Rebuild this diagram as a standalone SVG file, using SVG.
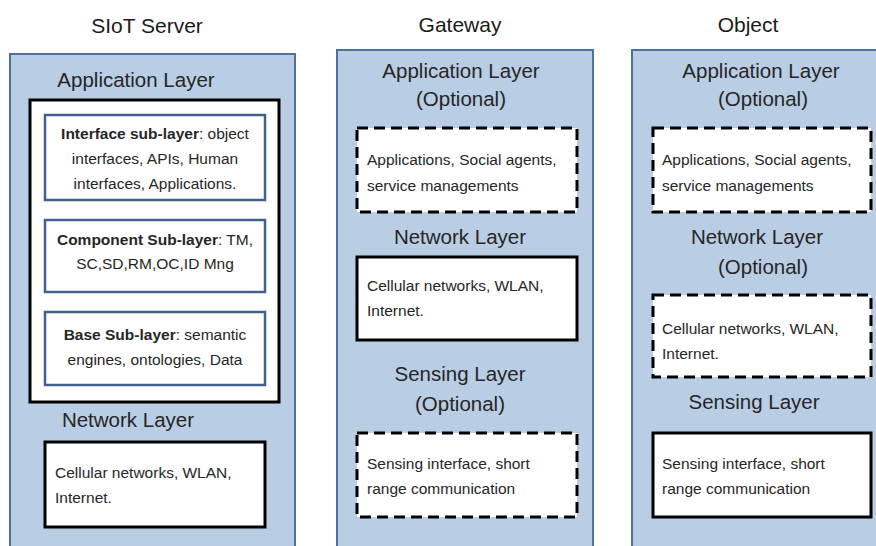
<svg xmlns="http://www.w3.org/2000/svg" width="876" height="546" viewBox="0 0 876 546">
<style>
text{font-family:"Liberation Sans",Arial,sans-serif;fill:#262626}
.title{font-size:21px;text-anchor:middle;fill:#1a1a1a}
.layer{font-size:20.5px;text-anchor:middle}
.body{font-size:15.5px}
.sub{font-size:15.5px;text-anchor:middle}
.b{font-weight:bold}
.panel{fill:#b9cde5;stroke:#4f71a0;stroke-width:2}
.solid{fill:#fff;stroke:#000;stroke-width:3}
.dash{fill:#fff;stroke:#000;stroke-width:3;stroke-dasharray:11 6}
.subbox{fill:#fff;stroke:#41608c;stroke-width:2.5}
</style>
<rect width="876" height="546" fill="#fff"/>

<g id="siot-server">
  <text class="title" x="147" y="33">SIoT Server</text>
  <rect class="panel" x="10" y="54" width="285" height="500"/>
  <text class="layer" x="136" y="87">Application Layer</text>
  <g id="siot-app">
    <rect class="solid" x="30" y="100" width="249" height="302"/>
    <g id="interface-sublayer">
      <rect class="subbox" x="45" y="115" width="220" height="85"/>
      <text class="sub" x="155" y="139"><tspan class="b">Interface sub-layer</tspan>: object</text>
      <text class="sub" x="155" y="164">interfaces, APIs, Human</text>
      <text class="sub" x="155" y="189">interfaces, Applications.</text>
    </g>
    <g id="component-sublayer">
      <rect class="subbox" x="45" y="220" width="220" height="72"/>
      <text class="sub" x="155" y="245"><tspan class="b">Component Sub-layer</tspan>: TM,</text>
      <text class="sub" x="155" y="269">SC,SD,RM,OC,ID Mng</text>
    </g>
    <g id="base-sublayer">
      <rect class="subbox" x="45" y="312" width="220" height="73"/>
      <text class="sub" x="155" y="340"><tspan class="b">Base Sub-layer</tspan>: semantic</text>
      <text class="sub" x="155" y="365">engines, ontologies, Data</text>
    </g>
  </g>
  <text class="layer" x="128" y="427">Network Layer</text>
  <g id="siot-network">
    <rect class="solid" x="45" y="442" width="220" height="85"/>
    <text class="body" x="55" y="478">Cellular networks, WLAN,</text>
    <text class="body" x="55" y="503">Internet.</text>
  </g>
</g>

<g id="gateway">
  <text class="title" x="460" y="32">Gateway</text>
  <rect class="panel" x="337" y="50" width="256" height="504"/>
  <text class="layer" x="461" y="78">Application Layer</text>
  <text class="layer" x="461" y="106">(Optional)</text>
  <g id="gateway-app">
    <rect class="dash" x="357" y="128" width="220" height="84"/>
    <text class="body" x="367" y="165">Applications, Social agents,</text>
    <text class="body" x="367" y="191">service managements</text>
  </g>
  <text class="layer" x="460" y="244">Network Layer</text>
  <g id="gateway-network">
    <rect class="solid" x="357" y="257" width="220" height="83"/>
    <text class="body" x="367" y="291">Cellular networks, WLAN,</text>
    <text class="body" x="367" y="316">Internet.</text>
  </g>
  <text class="layer" x="460" y="381">Sensing Layer</text>
  <text class="layer" x="460" y="411">(Optional)</text>
  <g id="gateway-sensing">
    <rect class="dash" x="357" y="433" width="220" height="84"/>
    <text class="body" x="367" y="469">Sensing interface, short</text>
    <text class="body" x="367" y="494">range communication</text>
  </g>
</g>

<g id="object">
  <text class="title" x="748" y="32">Object</text>
  <rect class="panel" x="632" y="50" width="260" height="504"/>
  <text class="layer" x="761" y="78">Application Layer</text>
  <text class="layer" x="763" y="106">(Optional)</text>
  <g id="object-app">
    <rect class="dash" x="653" y="128" width="218" height="84"/>
    <text class="body" x="662" y="165">Applications, Social agents,</text>
    <text class="body" x="662" y="191">service managements</text>
  </g>
  <text class="layer" x="757" y="244">Network Layer</text>
  <text class="layer" x="763" y="274">(Optional)</text>
  <g id="object-network">
    <rect class="dash" x="653" y="295" width="218" height="82"/>
    <text class="body" x="662" y="334">Cellular networks, WLAN,</text>
    <text class="body" x="662" y="359">Internet.</text>
  </g>
  <text class="layer" x="754" y="409">Sensing Layer</text>
  <g id="object-sensing">
    <rect class="solid" x="653" y="433" width="218" height="84"/>
    <text class="body" x="662" y="469">Sensing interface, short</text>
    <text class="body" x="662" y="494">range communication</text>
  </g>
</g>

<g id="connectors"/>
</svg>
